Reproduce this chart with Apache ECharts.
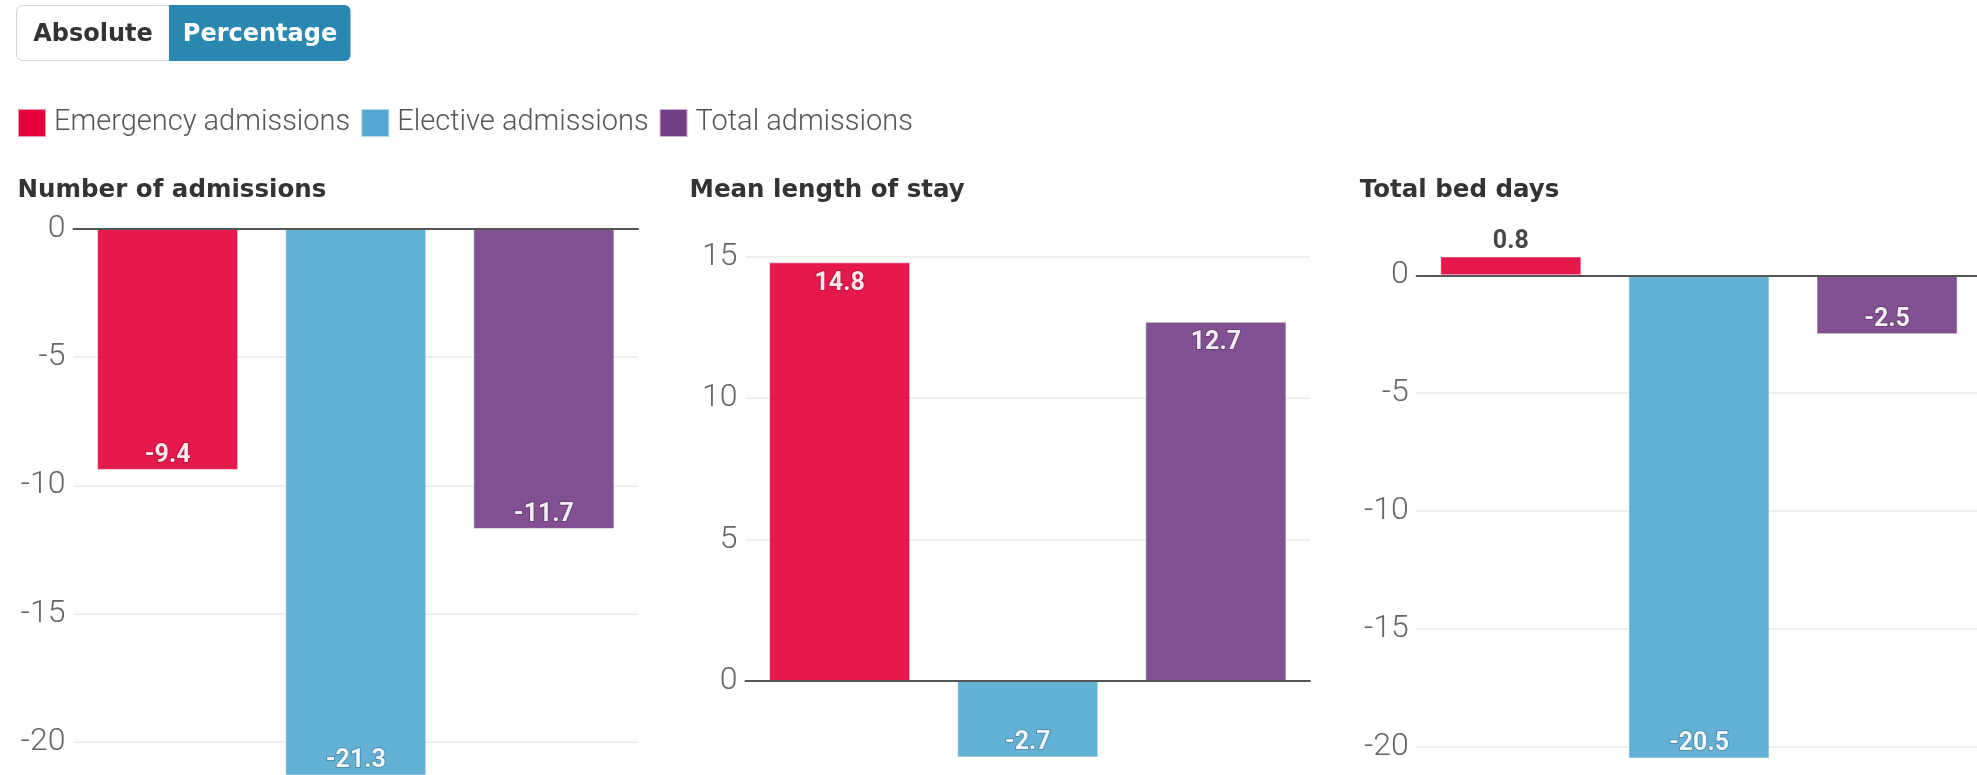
<!DOCTYPE html>
<html>
<head>
<meta charset="utf-8">
<title>Admissions, length of stay and bed days – percentage change</title>
<script src="https://cdn.jsdelivr.net/npm/echarts@6/dist/echarts.min.js"></script>
<style>
  html, body { margin: 0; padding: 0; background: #ffffff; }
  #chart { width: 1977px; height: 775px; }
</style>
</head>
<body>
<div id="chart"></div>
<script>
// ---- data -------------------------------------------------------------
const panelTitles = ['Number of admissions', 'Mean length of stay', 'Total bed days'];
const seriesNames = ['Emergency admissions', 'Elective admissions', 'Total admissions'];
// percentage change per panel (same order as panelTitles)
const emergency = [-9.4, 14.8, 0.8];
const elective  = [-21.3, -2.7, -20.5];
const totalAdm  = [-11.7, 12.7, -2.5];
// value-axis range per panel
const axisMin = [-25, -5, -25];
const axisMax = [0, 15, 1];
const tickStep = 5;
const toggleLabels = ['Absolute', 'Percentage'];

// ---- styling ----------------------------------------------------------
const colors = ['#e3003a', '#52a8d0', '#743e85'];
const values = [emergency, elective, totalAdm];

// pixel layout of the three panels (plots run past the bottom edge of the page)
const gridLeft = [73.5, 745.5, 1416.7];
const gridWidth = 564.5;
const zeroY = [228.5, 681, 275.3];
const unitPx = [25.68, 28.29, 23.57];

const grids = [], xAxes = [], yAxes = [], series = [];

// value label placement: inside the bar end, or above it when the bar is too short
function labelFor(v) {
  const small = Math.abs(v) < 1.5;
  if (small) {
    return { position: 'top', distance: 2, color: '#333333', textBorderWidth: 0 };
  }
  return v >= 0
    ? { position: 'insideTop', distance: 9 }
    : { position: 'insideBottom', distance: 2 };
}

panelTitles.forEach((t, p) => {
  const top = zeroY[p] - axisMax[p] * unitPx[p];
  const height = (axisMax[p] - axisMin[p]) * unitPx[p];
  grids.push({ left: gridLeft[p], top: top, width: gridWidth, height: height,
               containLabel: false, outerBoundsMode: 'none' });
  xAxes.push({
    type: 'category', gridIndex: p, data: [''], z: 5,
    axisLine: { show: true, onZero: true, lineStyle: { color: '#555555', width: 2 } },
    axisTick: { show: false }, axisLabel: { show: false }, splitLine: { show: false }
  });
  yAxes.push({
    type: 'value', gridIndex: p, min: axisMin[p], max: axisMax[p], interval: tickStep,
    axisLine: { show: false }, axisTick: { show: false },
    axisLabel: {
      showMaxLabel: axisMax[p] % tickStep === 0,
      margin: 8, color: '#666666', fontFamily: 'Roboto', fontWeight: 300, fontSize: 32,
      formatter: v => (v % tickStep === 0 ? String(v) : '')
    },
    splitLine: { show: true, showMaxLine: axisMax[p] % tickStep === 0,
                 lineStyle: { color: '#edf0ec', width: 2 } }
  });
  values.forEach((arr, s) => {
    const v = arr[p];
    series.push({
      type: 'bar', name: seriesNames[s], xAxisIndex: p, yAxisIndex: p,
      barWidth: '25%', barGap: '33.3%',
      itemStyle: { color: colors[s], opacity: 0.9, borderColor: 'rgba(255,255,255,0.6)', borderWidth: 1 },
      label: {
        show: true,
        color: '#ffffff',
        fontFamily: 'Roboto', fontWeight: 'bold', fontSize: 25,
        textBorderColor: 'rgba(0,0,0,0.22)',
        textBorderWidth: 2,
        formatter: d => d.value.toFixed(1)
      },
      emphasis: { disabled: true },
      data: [{ value: v, label: labelFor(v) }]
    });
  });
});

// panel titles and the Absolute / Percentage toggle
const graphics = panelTitles.map((t, p) => ({
  type: 'text',
  x: [17.6, 689.5, 1359.8][p], y: 191,
  style: { text: t, font: 'bold 24.5px "DejaVu Sans"', fill: '#333333', verticalAlign: 'middle' }
}));
graphics.push(
  { type: 'rect', shape: { x: 16.5, y: 5.5, width: 153, height: 55, r: [6, 0, 0, 6] },
    style: { fill: '#ffffff', stroke: '#d2d2d2', lineWidth: 1 } },
  { type: 'rect', shape: { x: 169, y: 5, width: 181.5, height: 56, r: [0, 6, 6, 0] },
    style: { fill: '#2a87b2' } },
  { type: 'text', x: 93, y: 35,
    style: { text: toggleLabels[0], font: 'bold 24px "DejaVu Sans"', fill: '#333333', align: 'center', verticalAlign: 'middle' } },
  { type: 'text', x: 260, y: 35,
    style: { text: toggleLabels[1], font: 'bold 24px "DejaVu Sans"', fill: '#ffffff', align: 'center', verticalAlign: 'middle' } }
);

const chart = echarts.init(document.getElementById('chart'), null, { renderer: 'canvas' });
chart.setOption({
  animation: false,
  backgroundColor: '#ffffff',
  legend: {
    data: seriesNames, left: 17, top: 108, padding: 0,
    icon: 'rect', itemWidth: 28, itemHeight: 28, itemGap: 10,
    itemStyle: { opacity: 1 },
    textStyle: { fontFamily: 'Roboto', fontWeight: 300, fontSize: 29, color: '#555555', padding: [0, 0, 0, 3] }
  },
  tooltip: { show: false },
  grid: grids,
  xAxis: xAxes,
  yAxis: yAxes,
  series: series,
  graphic: graphics
});
</script>
</body>
</html>
